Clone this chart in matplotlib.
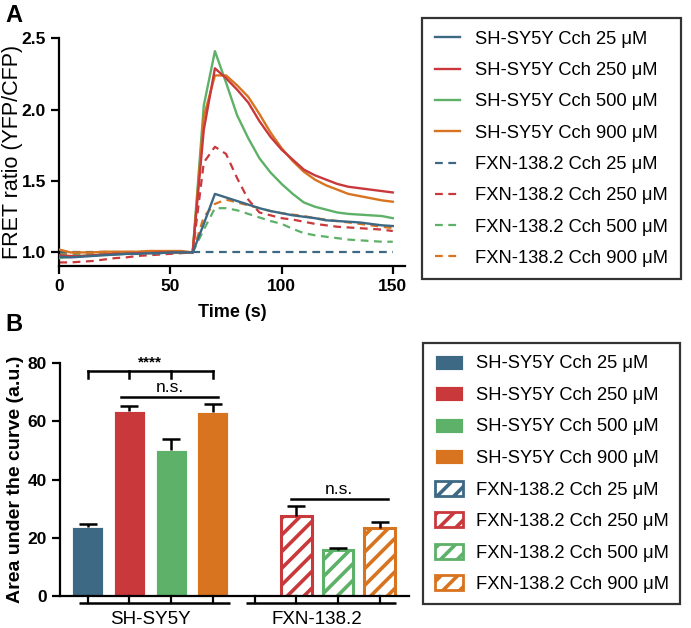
import numpy as np
import matplotlib
matplotlib.use("Agg")
import matplotlib.pyplot as plt
from matplotlib.patches import Patch
from matplotlib.lines import Line2D

plt.rcParams['font.family'] = ['Liberation Sans', 'DejaVu Sans']
plt.rcParams['hatch.linewidth'] = 2.6

# ---------------- data ----------------
time_s = np.arange(0, 155, 5)

sh_25 = [0.97, 0.965, 0.97, 0.975, 0.98, 0.985, 0.99, 0.99, 0.995, 0.995, 1.0, 1.0, 1.0,
         1.2, 1.41, 1.385, 1.36, 1.335, 1.31, 1.29, 1.275, 1.26, 1.25, 1.24, 1.225, 1.22,
         1.215, 1.21, 1.2, 1.19, 1.185]
sh_250 = [0.98, 0.975, 0.975, 0.98, 0.985, 0.99, 0.99, 0.995, 0.995, 1.0, 1.0, 1.0, 1.0,
          1.86, 2.29, 2.22, 2.14, 2.05, 1.92, 1.81, 1.72, 1.65, 1.58, 1.54, 1.51, 1.48,
          1.46, 1.45, 1.44, 1.43, 1.42]
sh_500 = [0.96, 0.97, 0.975, 0.98, 0.985, 0.985, 0.99, 0.99, 0.995, 0.995, 1.0, 1.0, 1.0,
          2.03, 2.41, 2.19, 1.96, 1.8, 1.66, 1.56, 1.48, 1.41, 1.35, 1.32, 1.30, 1.28,
          1.27, 1.265, 1.26, 1.255, 1.24]
sh_900 = [1.02, 1.0, 1.0, 1.0, 1.005, 1.005, 1.005, 1.005, 1.01, 1.01, 1.01, 1.01, 1.0,
          1.95, 2.24, 2.24, 2.17, 2.09, 1.97, 1.84, 1.73, 1.64, 1.565, 1.51, 1.47, 1.44,
          1.41, 1.395, 1.38, 1.365, 1.355]
fxn_25 = [1.0] * 31
fxn_250 = [0.93, 0.93, 0.935, 0.94, 0.95, 0.96, 0.965, 0.975, 0.98, 0.985, 0.99, 0.995, 1.0,
           1.63, 1.74, 1.69, 1.52, 1.37, 1.28, 1.26, 1.24, 1.23, 1.215, 1.20, 1.19, 1.18,
           1.175, 1.17, 1.165, 1.16, 1.15]
fxn_500 = [0.99, 0.99, 0.99, 0.99, 0.995, 0.995, 0.995, 0.995, 1.0, 1.0, 1.0, 1.0, 1.0,
           1.16, 1.31, 1.31, 1.295, 1.27, 1.245, 1.22, 1.20, 1.165, 1.135, 1.12, 1.11, 1.10,
           1.09, 1.085, 1.08, 1.075, 1.075]
fxn_900 = [1.0] * 13 + [1.25, 1.34, 1.37, 1.35, 1.33, 1.31, 1.29, 1.275, 1.265, 1.255, 1.24,
                        1.23, 1.22, 1.21, 1.20, 1.19, 1.18, 1.17]

conc_labels = ["25", "250", "500", "900"]
colors = ["#3d6985", "#c9383b", "#5db168", "#d8741f"]

groups = ["SH-SY5Y", "FXN-138.2"]
auc_sh = [23.8, 63.6, 50.2, 63.3]
auc_sh_err = [0.8, 1.8, 3.7, 2.7]
auc_fxn = [np.nan, 27.5, 15.8, 23.5]
auc_fxn_err = [np.nan, 3.5, 0.6, 1.9]

# ---------------- figure ----------------
W, H = 691, 628
fig = plt.figure(figsize=(W / 100, H / 100), dpi=100)

def fbox(l, t, r, b):
    return [l / W, 1 - b / H, (r - l) / W, (b - t) / H]

tick_kw = dict(labelsize=12.5, width=1.6, length=6, direction='out')
LEG_FS = 13.2

# ---------- Panel A ----------
axA = fig.add_axes(fbox(59.3, 38.3, 405, 265.7))
sh_series = [sh_25, sh_250, sh_500, sh_900]
fxn_series = [fxn_25, fxn_250, fxn_500, fxn_900]
for i in [2, 3, 1, 0]:
    axA.plot(time_s, fxn_series[i], color=colors[i], lw=1.6, ls=(0, (3.5, 2.5)), zorder=2)
for i in [2, 3, 1, 0]:
    axA.plot(time_s, sh_series[i], color=colors[i], lw=1.7, zorder=3)
axA.set_xlim(0, 155.5)
axA.set_ylim(0.907, 2.5)
axA.set_xticks([0, 50, 100, 150])
axA.set_yticks([1.0, 1.5, 2.0, 2.5])
axA.yaxis.set_major_formatter(matplotlib.ticker.FormatStrFormatter('%.1f'))
for s in ['top', 'right']:
    axA.spines[s].set_visible(False)
for s in ['left', 'bottom']:
    axA.spines[s].set_linewidth(1.6)
axA.tick_params(**tick_kw)
for lab in axA.get_xticklabels() + axA.get_yticklabels():
    lab.set_fontweight('bold')
axA.set_xlabel("Time (s)", fontsize=13, fontweight='bold', labelpad=7)
axA.set_ylabel("FRET ratio (YFP/CFP)", fontsize=15.5)
axA.yaxis.set_label_coords((23 - 59.3) / (405 - 59.3), 0.5)

handlesA = [Line2D([], [], color=c, lw=1.7) for c in colors] + \
           [Line2D([], [], color=c, lw=1.6, ls=(0, (3.5, 2.5))) for c in colors]
labelsA = [f"SH-SY5Y Cch {c} \u03bcM" for c in conc_labels] + \
          [f"FXN-138.2 Cch {c} \u03bcM" for c in conc_labels]
legA = fig.legend(handlesA, labelsA, loc='upper left',
                  bbox_to_anchor=(422.3 / W, 1 - 18.3 / H), borderaxespad=0,
                  fontsize=LEG_FS, frameon=True, fancybox=False, edgecolor='black',
                  handlelength=1.4, handletextpad=0.8, labelspacing=0.78,
                  borderpad=0.68)
legA.get_frame().set_linewidth(1.6)

# ---------- Panel B ----------
axB = fig.add_axes(fbox(60, 363.3, 409, 596))
pos_sh = np.arange(4)
pos_fxn = np.arange(4) + 4
bw = 0.74
for i in range(4):
    axB.bar(pos_sh[i], auc_sh[i], width=bw, color=colors[i], edgecolor='white',
            linewidth=0.6, zorder=2)
    axB.bar(pos_fxn[i], auc_fxn[i], width=bw, facecolor='white', edgecolor=colors[i],
            hatch='//', linewidth=2.2, zorder=2)

all_pos = np.concatenate([pos_sh, pos_fxn])
all_val = np.array(auc_sh + auc_fxn, dtype=float)
all_err = np.array(auc_sh_err + auc_fxn_err, dtype=float)
eb = axB.errorbar(all_pos, all_val, yerr=[np.zeros_like(all_err), all_err], fmt='none',
                  ecolor='black', elinewidth=1.8, capsize=6.5, capthick=1.8, zorder=3)
for cl in eb[1]:
    yd = np.asarray(cl.get_ydata(), dtype=float)
    if np.allclose(yd[~np.isnan(yd)], all_val[~np.isnan(all_val)]):
        cl.set_visible(False)

axB.set_xlim(-0.663, 7.70)
axB.set_ylim(0, 80)
axB.set_yticks([0, 20, 40, 60, 80])
axB.set_xticks([])
for s in ['top', 'right']:
    axB.spines[s].set_visible(False)
for s in ['left', 'bottom']:
    axB.spines[s].set_linewidth(1.6)
axB.tick_params(axis='y', **tick_kw)
for lab in axB.get_yticklabels():
    lab.set_fontweight('bold')
axB.set_ylabel("Area under the curve (a.u.)", fontsize=14, fontweight='bold')
axB.yaxis.set_label_coords((24 - 60) / (409 - 60), 0.5)

# group brackets below the axis
yb = -2.5
for p in (pos_sh, pos_fxn):
    axB.plot([p[0] - 0.2, p[-1] + 0.4], [yb, yb], color='black', lw=1.8,
             clip_on=False, solid_capstyle='butt')
    for x in p:
        axB.plot([x, x], [0, yb], color='black', lw=1.6, clip_on=False)
for gi, p in enumerate((pos_sh, pos_fxn)):
    axB.text(p.mean(), -5.0, groups[gi], ha='center', va='top', fontsize=13.5,
             transform=axB.transData, clip_on=False)

# significance annotations
lw_s = 1.8
axB.plot([pos_sh[0], pos_sh[-1]], [77.4, 77.4], color='black', lw=lw_s, zorder=4)
for x in pos_sh:
    axB.plot([x, x], [77.4, 75.0], color='black', lw=lw_s, zorder=4)
axB.text(1.5, 77.8, "****", ha='center', va='bottom', fontsize=11, fontweight='bold')
axB.plot([0.81, 3.13], [68.3, 68.3], color='black', lw=lw_s, zorder=4)
axB.text(1.97, 69.0, "n.s.", ha='center', va='bottom', fontsize=12.5)
axB.plot([4.87, 7.19], [33.3, 33.3], color='black', lw=lw_s, zorder=4)
axB.text(6.03, 34.0, "n.s.", ha='center', va='bottom', fontsize=12.5)

handlesB = [Patch(facecolor=c, edgecolor='white', lw=0.6) for c in colors] + \
           [Patch(facecolor='white', edgecolor=c, hatch='//', lw=2.0) for c in colors]
legB = fig.legend(handlesB, labelsA, loc='upper left',
                  bbox_to_anchor=(423.3 / W, 1 - 343.3 / H), borderaxespad=0,
                  fontsize=LEG_FS, frameon=True, fancybox=False, edgecolor='black',
                  handlelength=1.55, handleheight=0.87, handletextpad=0.7,
                  labelspacing=0.75, borderpad=0.62)
legB.get_frame().set_linewidth(1.6)

# panel letters
fig.text(5 / W, 1 - 4 / H, "A", fontsize=17, fontweight='bold', va='top', ha='left')
fig.text(5 / W, 1 - 313 / H, "B", fontsize=17, fontweight='bold', va='top', ha='left')

fig.savefig("out.png", dpi=100)
